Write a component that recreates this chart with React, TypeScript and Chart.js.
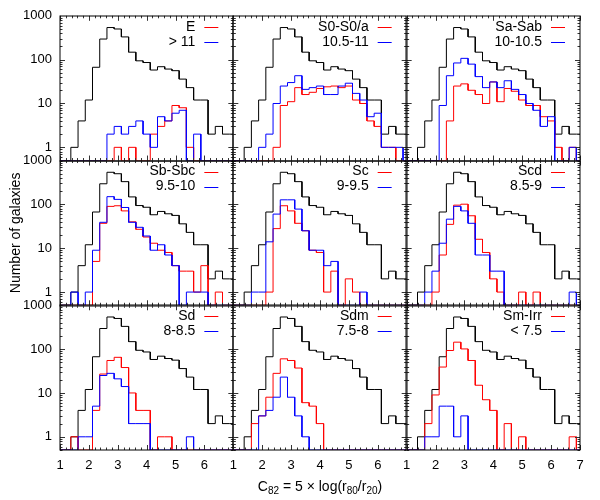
import React, { useEffect, useRef } from "react";
import { Chart, registerables } from "chart.js";

Chart.register(...registerables);

// ---- data ----
const BIN_CENTERS = [1.0, 1.25, 1.5, 1.75, 2.0, 2.25, 2.5, 2.75, 3.0, 3.25, 3.5, 3.75, 4.0, 4.25, 4.5, 4.75, 5.0, 5.25, 5.5, 5.75, 6.0, 6.25, 6.5, 6.75, 7.0];
const BIN_WIDTH = 0.25;
const X_MIN = 1;
const X_MAX = 7;
const Y_MIN = 0.5;
const Y_MAX = 1000;
const X_TICKS = [1, 2, 3, 4, 5, 6, 7];
const Y_TICKS = [1, 10, 100, 1000];

const TOTAL = [0, 0, 1, 4, 12, 67, 295, 540, 500, 330, 148, 94, 86, 58, 69, 61, 56, 36, 23, 12, 12, 2, 3, 2, 2];

const TYPE_LABELS = ["E", "S0-S0/a", "Sa-Sab", "Sb-Sbc", "Sc", "Scd", "Sd", "Sdm", "Sm-Irr"];
const MASS_LABELS = ["> 11", "10.5-11", "10-10.5", "9.5-10", "9-9.5", "8.5-9", "8-8.5", "7.5-8", "< 7.5"];

const TYPE_E = [0, 0, 0, 0, 0, 0, 0, 0, 1, 0, 1, 0, 0, 2, 3, 4, 9, 8, 1, 0, 0, 0, 0, 0, 0];
const TYPE_S0 = [0, 0, 0, 0, 0, 0, 1, 9, 11, 23, 16, 18, 22, 24, 25, 23, 25, 12, 10, 4, 3, 1, 1, 0, 0];
const TYPE_SA = [0, 0, 0, 0, 0, 0, 4, 25, 28, 20, 16, 10, 31, 11, 22, 19, 12, 9, 9, 5, 4, 1, 0, 1, 0];
const TYPE_SB = [0, 0, 0, 0, 0, 5, 37, 90, 93, 71, 40, 27, 18, 13, 9, 8, 4, 3, 3, 1, 4, 0, 1, 0, 0];
const TYPE_SC = [0, 0, 0, 0, 0, 1, 28, 93, 71, 37, 25, 9, 8, 1, 3, 0, 2, 1, 0, 0, 0, 0, 0, 0, 0];
const TYPE_SCD = [0, 0, 0, 0, 1, 7, 35, 96, 101, 55, 16, 8, 2, 1, 0, 0, 1, 0, 1, 0, 0, 0, 0, 0, 0];
const TYPE_SD = [0, 0, 1, 0, 0, 4, 27, 55, 65, 38, 10, 4, 4, 0, 1, 1, 0, 0, 0, 0, 0, 0, 0, 0, 0];
const TYPE_SDM = [0, 0, 0, 2, 3, 8, 28, 60, 55, 37, 6, 5, 2, 0, 0, 0, 0, 0, 0, 0, 0, 0, 0, 0, 0];
const TYPE_SMIRR = [0, 0, 0, 2, 9, 39, 93, 144, 101, 55, 15, 7, 4, 0, 2, 0, 1, 0, 0, 0, 0, 0, 0, 1, 0];

const MASS_GT11 = [0, 0, 0, 0, 0, 0, 0, 2, 3, 2, 3, 4, 2, 1, 5, 4, 6, 7, 0, 2, 0, 0, 0, 0, 0];
const MASS_105_11 = [0, 0, 0, 0, 1, 2, 10, 25, 30, 43, 21, 23, 25, 16, 16, 25, 29, 17, 12, 5, 6, 1, 1, 1, 0];
const MASS_10_105 = [0, 0, 0, 0, 0, 9, 43, 84, 107, 79, 41, 23, 31, 23, 33, 21, 16, 10, 7, 3, 5, 0, 0, 1, 0];
const MASS_95_10 = [0, 0, 1, 0, 1, 9, 39, 150, 130, 85, 39, 30, 19, 9, 12, 7, 4, 0, 1, 1, 1, 0, 0, 0, 0];
const MASS_9_95 = [0, 0, 0, 1, 1, 14, 60, 127, 127, 78, 25, 9, 9, 4, 5, 0, 0, 0, 1, 0, 0, 0, 0, 0, 0];
const MASS_85_9 = [0, 0, 0, 1, 3, 13, 46, 90, 71, 37, 7, 7, 3, 3, 0, 0, 0, 0, 0, 0, 0, 0, 0, 1, 0];
const MASS_8_85 = [0, 0, 0, 1, 1, 5, 25, 28, 21, 14, 2, 2, 2, 0, 0, 0, 0, 0, 1, 0, 0, 0, 0, 0, 0];
const MASS_75_8 = [0, 0, 0, 0, 3, 4, 8, 23, 8, 3, 1, 0, 0, 0, 0, 0, 0, 0, 0, 0, 0, 0, 0, 0, 0];
const MASS_LT75 = [0, 0, 0, 1, 1, 5, 5, 1, 3, 0, 0, 0, 0, 0, 0, 0, 0, 0, 0, 0, 0, 0, 0, 0, 0];

const TYPE_COUNTS = [TYPE_E, TYPE_S0, TYPE_SA, TYPE_SB, TYPE_SC, TYPE_SCD, TYPE_SD, TYPE_SDM, TYPE_SMIRR];
const MASS_COUNTS = [MASS_GT11, MASS_105_11, MASS_10_105, MASS_95_10, MASS_9_95, MASS_85_9, MASS_8_85, MASS_75_8, MASS_LT75];

const FONT_FAMILY = '"Liberation Sans", Arial, Helvetica, sans-serif';
const RED = "#ff0000";
const BLUE = "#0000ff";
const BLACK = "#000000";

function steps(counts: number[]) {
  const pts: { x: number; y: number }[] = [];
  counts.forEach((v, i) => {
    const c = BIN_CENTERS[i];
    const x0 = Math.max(X_MIN, c - BIN_WIDTH / 2);
    const x1 = Math.min(X_MAX, c + BIN_WIDTH / 2);
    const y = v > 0 ? v : Y_MIN;
    pts.push({ x: x0, y }, { x: x1, y });
  });
  return pts;
}

const panelPlugin = {
  id: "panels",
  afterDatasetsDraw(chart: any) {
    const ctx = chart.ctx as CanvasRenderingContext2D;
    ctx.save();
    const snap = (v: number) => Math.round(v) + 0.5;
    for (let p = 0; p < 9; p++) {
      const r = Math.floor(p / 3);
      const c = p % 3;
      const xs = chart.scales["x" + c];
      const ys = chart.scales["y" + r];
      const L = xs.left, R = xs.right, T = ys.top, B = ys.bottom;
      ctx.strokeStyle = "#333";
      ctx.lineWidth = 1;
      ctx.beginPath();
      for (let k = 0; k <= 30; k++) {
        const v = X_MIN + k * 0.2;
        if (v > X_MAX + 1e-9) break;
        const major = Math.abs(v - Math.round(v)) < 1e-6;
        const len = major ? 5 : 2.5;
        const px = snap(xs.getPixelForValue(v));
        ctx.moveTo(px, B);
        ctx.lineTo(px, B - len);
        ctx.moveTo(px, T);
        ctx.lineTo(px, T + len);
      }
      for (const d of [0.1, 1, 10, 100]) {
        for (let m = 1; m <= 9; m++) {
          const v = m * d;
          if (v < Y_MIN - 1e-9 || v > Y_MAX + 1e-9) continue;
          const major = m === 1;
          const len = major ? 5 : 2.5;
          const py = snap(ys.getPixelForValue(v));
          ctx.moveTo(L, py);
          ctx.lineTo(L + len, py);
          ctx.moveTo(R, py);
          ctx.lineTo(R - len, py);
        }
      }
      ctx.stroke();
      ctx.strokeStyle = "#000";
      ctx.strokeRect(Math.round(L), Math.round(T), Math.round(R - L), Math.round(B - T));
      // legend
      ctx.font = "14px " + FONT_FAMILY;
      ctx.fillStyle = "#000";
      ctx.textAlign = "right";
      ctx.textBaseline = "middle";
      ctx.fillText(TYPE_LABELS[p], R - 38, T + 11);
      ctx.fillText(MASS_LABELS[p], R - 38, T + 26);
      ctx.lineWidth = 1;
      ctx.strokeStyle = RED;
      ctx.beginPath();
      ctx.moveTo(R - 29, snap(T + 11));
      ctx.lineTo(R - 15, snap(T + 11));
      ctx.stroke();
      ctx.strokeStyle = BLUE;
      ctx.beginPath();
      ctx.moveTo(R - 29, snap(T + 26));
      ctx.lineTo(R - 15, snap(T + 26));
      ctx.stroke();
    }
    const area = chart.chartArea;
    ctx.fillStyle = "#000";
    ctx.save();
    ctx.translate(16, (area.top + area.bottom) / 2);
    ctx.rotate(-Math.PI / 2);
    ctx.textAlign = "center";
    ctx.textBaseline = "middle";
    ctx.font = "14px " + FONT_FAMILY;
    ctx.fillText("Number of galaxies", 0, 0);
    ctx.restore();

    const parts: [string, boolean][] = [
      ["C", false], ["82", true], [" = 5 \u00d7 log(r", false], ["80", true], ["/r", false], ["20", true], [")", false],
    ];
    const mainFont = "14px " + FONT_FAMILY;
    const subFont = "10px " + FONT_FAMILY;
    let total = 0;
    for (const [t, sub] of parts) {
      ctx.font = sub ? subFont : mainFont;
      total += ctx.measureText(t).width;
    }
    let x = (area.left + area.right) / 2 - total / 2;
    const baseY = 491;
    ctx.textAlign = "left";
    ctx.textBaseline = "alphabetic";
    for (const [t, sub] of parts) {
      ctx.font = sub ? subFont : mainFont;
      ctx.fillText(t, x, sub ? baseY + 3 : baseY);
      x += ctx.measureText(t).width;
    }
    ctx.restore();
  },
};

export default function App() {
  const ref = useRef<HTMLCanvasElement>(null);
  useEffect(() => {
    if (!ref.current) return;
    const datasets: any[] = [];
    for (let p = 0; p < 9; p++) {
      const r = Math.floor(p / 3);
      const c = p % 3;
      const common = {
        xAxisID: "x" + c,
        yAxisID: "y" + r,
        borderWidth: 1,
        pointRadius: 0,
        fill: false,
        tension: 0,
      };
      datasets.push({ ...common, label: "all", data: steps(TOTAL), borderColor: BLACK, order: 3 });
      datasets.push({ ...common, label: TYPE_LABELS[p], data: steps(TYPE_COUNTS[p]), borderColor: RED, order: 2 });
      datasets.push({ ...common, label: MASS_LABELS[p], data: steps(MASS_COUNTS[p]), borderColor: BLUE, order: 1 });
    }
    const tickFont = { family: FONT_FAMILY, size: 13 };
    const scales: any = {};
    for (let c = 0; c < 3; c++) {
      scales["x" + c] = {
        type: "linear",
        position: "bottom",
        stack: "xs",
        stackWeight: 1,
        weight: c + 1,
        min: X_MIN,
        max: X_MAX,
        grid: { display: false, drawTicks: false },
        border: { display: false },
        afterBuildTicks: (s: any) => {
          s.ticks = X_TICKS.map((v) => ({ value: v }));
        },
        afterFit: (s: any) => {
          s.height = 50;
        },
        ticks: {
          autoSkip: false,
          maxRotation: 0,
          padding: 8,
          color: "#000",
          font: tickFont,
          callback: (v: number) => (c < 2 && v >= X_MAX ? "" : String(v)),
        },
      };
    }
    for (let r = 0; r < 3; r++) {
      scales["y" + r] = {
        type: "logarithmic",
        position: "left",
        stack: "ys",
        stackWeight: 1,
        weight: 3 - r,
        min: Y_MIN,
        max: Y_MAX,
        grid: { display: false, drawTicks: false },
        border: { display: false },
        afterBuildTicks: (s: any) => {
          s.ticks = Y_TICKS.map((v) => ({ value: v }));
        },
        afterFit: (s: any) => {
          s.width = 60;
        },
        ticks: {
          autoSkip: false,
          padding: 8,
          color: "#000",
          font: tickFont,
          callback: (v: number) => String(v),
        },
      };
    }
    const chart = new Chart(ref.current, {
      type: "line",
      data: { datasets },
      options: {
        responsive: true,
        maintainAspectRatio: false,
        animation: false,
        layout: { padding: { left: 0, top: 15, right: 20, bottom: 0 } },
        plugins: { legend: { display: false }, tooltip: { enabled: false } },
        scales,
      },
      plugins: [panelPlugin],
    } as any);
    return () => chart.destroy();
  }, []);
  return (
    <div style={{ position: "absolute", left: 0, top: 0, width: 600, height: 500, background: "#fff" }}>
      <canvas ref={ref} />
    </div>
  );
}
